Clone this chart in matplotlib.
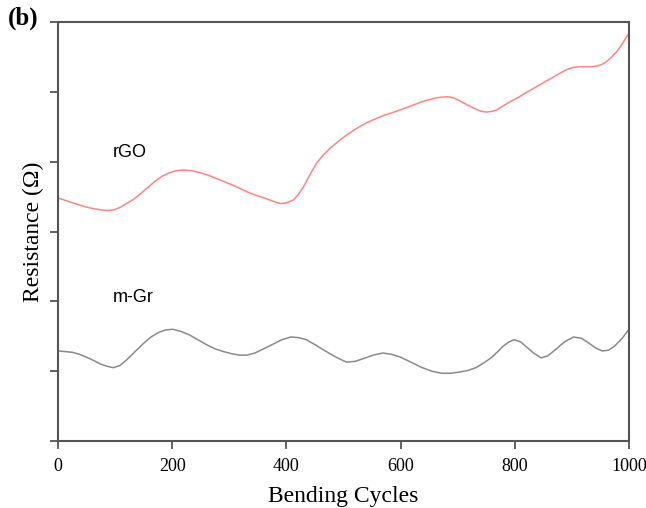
import numpy as np
import matplotlib.pyplot as plt

# rGO curve
rgo_x = [0, 15, 30, 45, 60, 75, 86, 98, 110, 120, 130, 140, 150, 160, 170, 182, 195, 207, 219, 235, 250, 265, 280,
         295, 310, 323, 336, 350, 365, 378, 389, 400, 412, 421, 430, 441, 453, 464, 475, 485, 494, 507, 520, 530,
         541, 555, 570, 585, 599, 612, 625, 638, 651, 667, 683, 694, 704, 717, 730, 741, 751, 760, 768, 780, 792,
         806, 820, 835, 850, 865, 880, 891, 902, 914, 925, 935, 944, 952, 960, 966, 972, 979, 986, 993, 1000]
rgo_y = [3.48, 3.44, 3.40, 3.36, 3.33, 3.31, 3.30, 3.31, 3.35, 3.40, 3.45, 3.51, 3.58, 3.65, 3.72, 3.79, 3.84, 3.87,
         3.88, 3.87, 3.84, 3.80, 3.75, 3.70, 3.65, 3.60, 3.55, 3.51, 3.47, 3.43, 3.40, 3.41, 3.45, 3.53, 3.64,
         3.81, 3.98, 4.09, 4.18, 4.25, 4.31, 4.39, 4.46, 4.51, 4.56, 4.61, 4.66, 4.70, 4.74, 4.78, 4.82, 4.86,
         4.89, 4.92, 4.93, 4.91, 4.87, 4.81, 4.76, 4.72, 4.71, 4.72, 4.74, 4.80, 4.86, 4.92, 4.99, 5.06, 5.13,
         5.20, 5.27, 5.32, 5.35, 5.36, 5.36, 5.36, 5.37, 5.39, 5.43, 5.47, 5.52, 5.58, 5.66, 5.75, 5.84]

# m-Gr curve
mgr_x = [0, 13, 25, 38, 50, 63, 75, 86, 97, 108, 120, 135, 150, 163, 175, 188, 201, 215, 230, 245, 260, 275, 290,
         304, 318, 331, 345, 360, 375, 392, 408, 421, 435, 452, 470, 487, 505, 520, 535, 552, 569, 585, 600, 618,
         635, 654, 672, 688, 705, 718, 732, 746, 760, 770, 780, 790, 799, 810, 820, 833, 846, 858, 870, 887, 903,
         917, 930, 942, 953, 964, 975, 988, 1000]
mgr_y = [1.29, 1.28, 1.27, 1.24, 1.20, 1.15, 1.10, 1.07, 1.05, 1.08, 1.16, 1.28, 1.40, 1.49, 1.55, 1.59, 1.60, 1.57,
         1.52, 1.45, 1.38, 1.32, 1.28, 1.25, 1.23, 1.23, 1.26, 1.32, 1.38, 1.45, 1.49, 1.48, 1.45, 1.37, 1.28,
         1.20, 1.13, 1.14, 1.18, 1.23, 1.26, 1.24, 1.20, 1.13, 1.06, 1.00, 0.97, 0.97, 0.99, 1.01, 1.05, 1.12,
         1.20, 1.28, 1.36, 1.42, 1.45, 1.42, 1.35, 1.26, 1.19, 1.22, 1.30, 1.42, 1.49, 1.47, 1.40, 1.33, 1.29,
         1.30, 1.36, 1.47, 1.60]

x_ticks = [0, 200, 400, 600, 800, 1000]
y_ticks = [0, 1, 2, 3, 4, 5, 6]

fig = plt.figure(figsize=(6.46, 5.08), dpi=100)
ax = fig.add_axes([58 / 646, 67 / 508, 571 / 646, 419 / 508])

ax.plot(rgo_x, rgo_y, color='#ff8585', lw=1.1)
ax.plot(mgr_x, mgr_y, color='#8a8a8a', lw=1.1)

ax.text(96, 4.13, 'rGO', fontsize=13, family='Liberation Sans', va='center')
ax.text(96, 2.06, 'm-Gr', fontsize=13, family='Liberation Sans', va='center')

ax.set_xlim(0, 1000)
ax.set_ylim(0, 6)
ax.set_xticks(x_ticks)
ax.set_xticklabels([str(t) for t in x_ticks], family='Liberation Serif', fontsize=13)
ax.set_yticks(y_ticks)
ax.set_yticklabels([])
ax.tick_params(direction='out', length=6, width=1.3, color='#555555', pad=6)

for s in ax.spines.values():
    s.set_color('#555555')
    s.set_linewidth(1.5)

ax.set_xlabel('Bending Cycles', family='Liberation Serif', fontsize=17, labelpad=8)
ax.set_ylabel('Resistance (Ω)', family='Liberation Serif', fontsize=17, labelpad=-2)

fig.text(8 / 646, 1 - 18 / 508, '(b)', family='Liberation Serif', fontsize=18, fontweight='bold', va='center')

plt.savefig('out.png', dpi=100)
plt.close(fig)
